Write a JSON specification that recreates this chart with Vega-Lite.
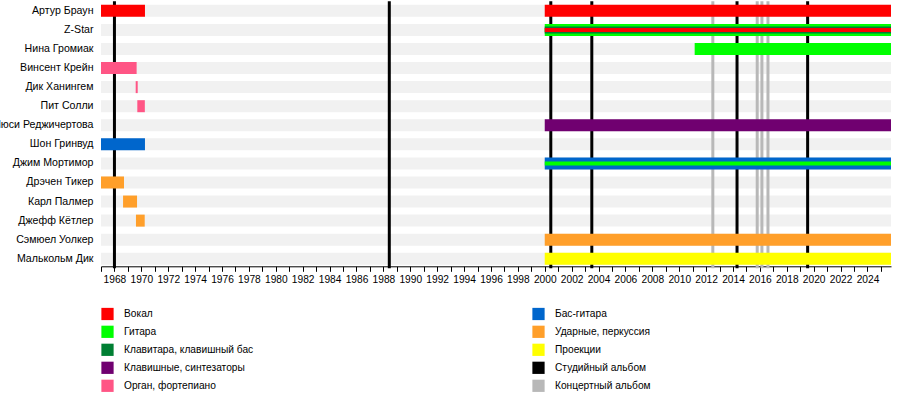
{
  "$schema": "https://vega.github.io/schema/vega-lite/v6.json",
  "width": 790,
  "height": 267,
  "autosize": {"type": "none"},
  "padding": {"left": 101, "top": 1.3, "right": 9, "bottom": 126.7},
  "background": "white",
  "config": {
    "view": {"stroke": null},
    "font": "Liberation Sans",
    "axisX": {
      "title": null,
      "grid": false,
      "offset": -2,
      "domainColor": "#000000",
      "tickColor": "#000000",
      "tickSize": 5,
      "labelFont": "Liberation Sans",
      "labelFontSize": 10.2,
      "labelColor": "#000000",
      "labelPadding": 3,
      "labelFlush": false,
      "labelOverlap": false
    },
    "legend": {
      "orient": "bottom",
      "columns": 2,
      "symbolType": "square",
      "symbolSize": 150,
      "symbolStrokeWidth": 0,
      "labelFont": "Liberation Sans",
      "labelFontSize": 10.2,
      "labelColor": "#000000",
      "labelOffset": 10,
      "rowPadding": 5,
      "columnPadding": 278,
      "offset": 22,
      "padding": 0,
      "title": null
    }
  },
  "datasets": {
    "members": [
      {"member": "Артур Браун"},
      {"member": "Z-Star"},
      {"member": "Нина Громиак"},
      {"member": "Винсент Крейн"},
      {"member": "Дик Ханингем"},
      {"member": "Пит Солли"},
      {"member": "Люси Реджичертова"},
      {"member": "Шон Гринвуд"},
      {"member": "Джим Мортимор"},
      {"member": "Дрэчен Тикер"},
      {"member": "Карл Палмер"},
      {"member": "Джефф Кётлер"},
      {"member": "Сэмюел Уолкер"},
      {"member": "Малькольм Дик"}
    ],
    "albums": [
      {"year": 1968.0, "type": "Студийный альбом"},
      {"year": 1988.44, "type": "Студийный альбом"},
      {"year": 2000.45, "type": "Студийный альбом"},
      {"year": 2003.5, "type": "Студийный альбом"},
      {"year": 2014.3, "type": "Студийный альбом"},
      {"year": 2019.55, "type": "Студийный альбом"},
      {"year": 2012.5, "type": "Концертный альбом"},
      {"year": 2015.8, "type": "Концертный альбом"},
      {"year": 2016.15, "type": "Концертный альбом"},
      {"year": 2016.6, "type": "Концертный альбом"}
    ],
    "bars": [
      {"member": "Артур Браун", "role": "Вокал", "start": 1967, "end": 1970.27, "tier": 1},
      {"member": "Артур Браун", "role": "Вокал", "start": 2000, "end": 2025.75, "tier": 1},
      {"member": "Z-Star", "role": "Гитара", "start": 2000, "end": 2025.75, "tier": 1},
      {"member": "Z-Star", "role": "Клавитара, клавишный бас", "start": 2000, "end": 2025.75, "tier": 2},
      {"member": "Z-Star", "role": "Вокал", "start": 2000, "end": 2025.75, "tier": 3},
      {"member": "Нина Громиак", "role": "Гитара", "start": 2011.15, "end": 2025.75, "tier": 1},
      {"member": "Винсент Крейн", "role": "Орган, фортепиано", "start": 1967, "end": 1969.65, "tier": 1},
      {"member": "Дик Ханингем", "role": "Орган, фортепиано", "start": 1969.58, "end": 1969.73, "tier": 1},
      {"member": "Пит Солли", "role": "Орган, фортепиано", "start": 1969.7, "end": 1970.26, "tier": 1},
      {"member": "Люси Реджичертова", "role": "Клавишные, синтезаторы", "start": 2000, "end": 2025.75, "tier": 1},
      {"member": "Шон Гринвуд", "role": "Бас-гитара", "start": 1967, "end": 1970.27, "tier": 1},
      {"member": "Джим Мортимор", "role": "Бас-гитара", "start": 2000, "end": 2025.75, "tier": 1},
      {"member": "Джим Мортимор", "role": "Гитара", "start": 2000, "end": 2025.75, "tier": 3},
      {"member": "Дрэчен Тикер", "role": "Ударные, перкуссия", "start": 1967, "end": 1968.71, "tier": 1},
      {"member": "Карл Палмер", "role": "Ударные, перкуссия", "start": 1968.64, "end": 1969.68, "tier": 1},
      {"member": "Джефф Кётлер", "role": "Ударные, перкуссия", "start": 1969.6, "end": 1970.25, "tier": 1},
      {"member": "Сэмюел Уолкер", "role": "Ударные, перкуссия", "start": 2000, "end": 2025.75, "tier": 1},
      {"member": "Малькольм Дик", "role": "Проекции", "start": 2000, "end": 2025.75, "tier": 1}
    ]
  },
  "resolve": {"scale": {"color": "shared"}},
  "layer": [
    {
      "data": {"name": "members"},
      "mark": {"type": "bar", "size": 12, "color": "#f1f1f1"},
      "encoding": {
        "y": {
          "field": "member",
          "type": "nominal",
          "scale": {"domain": ["Артур Браун", "Z-Star", "Нина Громиак", "Винсент Крейн", "Дик Ханингем", "Пит Солли", "Люси Реджичертова", "Шон Гринвуд", "Джим Мортимор", "Дрэчен Тикер", "Карл Палмер", "Джефф Кётлер", "Сэмюел Уолкер", "Малькольм Дик"], "paddingInner": 0, "paddingOuter": 0},
          "axis": {"title": null, "ticks": false, "domain": false, "labelFont": "Liberation Sans", "labelFontSize": 10.6, "labelColor": "#000000", "labelPadding": 8, "labelLimit": 0}
        },
        "x": {
          "datum": 1967,
          "type": "quantitative",
          "scale": {"domain": [1967, 2025.75], "nice": false, "zero": false},
          "axis": {
            "values": [1967, 1968, 1969, 1970, 1971, 1972, 1973, 1974, 1975, 1976, 1977, 1978, 1979, 1980, 1981, 1982, 1983, 1984, 1985, 1986, 1987, 1988, 1989, 1990, 1991, 1992, 1993, 1994, 1995, 1996, 1997, 1998, 1999, 2000, 2001, 2002, 2003, 2004, 2005, 2006, 2007, 2008, 2009, 2010, 2011, 2012, 2013, 2014, 2015, 2016, 2017, 2018, 2019, 2020, 2021, 2022, 2023, 2024, 2025],
            "labelExpr": "datum.value % 2 == 0 ? format(datum.value, 'd') : ''"
          }
        },
        "x2": {"datum": 2025.75}
      }
    },
    {
      "data": {"name": "albums"},
      "mark": {"type": "rule", "strokeWidth": 3},
      "encoding": {
        "x": {
          "field": "year",
          "type": "quantitative",
          "axis": {
            "values": [1967, 1968, 1969, 1970, 1971, 1972, 1973, 1974, 1975, 1976, 1977, 1978, 1979, 1980, 1981, 1982, 1983, 1984, 1985, 1986, 1987, 1988, 1989, 1990, 1991, 1992, 1993, 1994, 1995, 1996, 1997, 1998, 1999, 2000, 2001, 2002, 2003, 2004, 2005, 2006, 2007, 2008, 2009, 2010, 2011, 2012, 2013, 2014, 2015, 2016, 2017, 2018, 2019, 2020, 2021, 2022, 2023, 2024, 2025],
            "labelExpr": "datum.value % 2 == 0 ? format(datum.value, 'd') : ''"
          }
        },
        "color": {
          "field": "type",
          "type": "nominal",
          "scale": {
            "domain": ["Вокал", "Бас-гитара", "Гитара", "Ударные, перкуссия", "Клавитара, клавишный бас", "Проекции", "Клавишные, синтезаторы", "Студийный альбом", "Орган, фортепиано", "Концертный альбом"],
            "range": ["#ff0000", "#0066cc", "#00ff00", "#ff9f2a", "#007f33", "#ffff00", "#700070", "#000000", "#ff5585", "#b8b8b8"]
          },
          "legend": {
            "symbolType": "square",
            "encode": {"symbols": {"update": {"fill": {"scale": "color", "field": "value"}, "stroke": {"value": "transparent"}, "opacity": {"value": 1}}}}
          }
        }
      }
    },
    {
      "data": {"name": "bars"},
      "transform": [{"filter": "datum.tier == 1"}],
      "mark": {"type": "bar", "size": 12},
      "encoding": {
        "y": {"field": "member", "type": "nominal"},
        "x": {
          "field": "start",
          "type": "quantitative",
          "axis": {
            "values": [1967, 1968, 1969, 1970, 1971, 1972, 1973, 1974, 1975, 1976, 1977, 1978, 1979, 1980, 1981, 1982, 1983, 1984, 1985, 1986, 1987, 1988, 1989, 1990, 1991, 1992, 1993, 1994, 1995, 1996, 1997, 1998, 1999, 2000, 2001, 2002, 2003, 2004, 2005, 2006, 2007, 2008, 2009, 2010, 2011, 2012, 2013, 2014, 2015, 2016, 2017, 2018, 2019, 2020, 2021, 2022, 2023, 2024, 2025],
            "labelExpr": "datum.value % 2 == 0 ? format(datum.value, 'd') : ''"
          }
        },
        "x2": {"field": "end"},
        "color": {"field": "role", "type": "nominal"}
      }
    },
    {
      "data": {"name": "bars"},
      "transform": [{"filter": "datum.tier == 2"}],
      "mark": {"type": "bar", "size": 7},
      "encoding": {
        "y": {"field": "member", "type": "nominal"},
        "x": {
          "field": "start",
          "type": "quantitative",
          "axis": {
            "values": [1967, 1968, 1969, 1970, 1971, 1972, 1973, 1974, 1975, 1976, 1977, 1978, 1979, 1980, 1981, 1982, 1983, 1984, 1985, 1986, 1987, 1988, 1989, 1990, 1991, 1992, 1993, 1994, 1995, 1996, 1997, 1998, 1999, 2000, 2001, 2002, 2003, 2004, 2005, 2006, 2007, 2008, 2009, 2010, 2011, 2012, 2013, 2014, 2015, 2016, 2017, 2018, 2019, 2020, 2021, 2022, 2023, 2024, 2025],
            "labelExpr": "datum.value % 2 == 0 ? format(datum.value, 'd') : ''"
          }
        },
        "x2": {"field": "end"},
        "color": {"field": "role", "type": "nominal"}
      }
    },
    {
      "data": {"name": "bars"},
      "transform": [{"filter": "datum.tier == 3"}],
      "mark": {"type": "bar", "size": 4},
      "encoding": {
        "y": {"field": "member", "type": "nominal"},
        "x": {
          "field": "start",
          "type": "quantitative",
          "axis": {
            "values": [1967, 1968, 1969, 1970, 1971, 1972, 1973, 1974, 1975, 1976, 1977, 1978, 1979, 1980, 1981, 1982, 1983, 1984, 1985, 1986, 1987, 1988, 1989, 1990, 1991, 1992, 1993, 1994, 1995, 1996, 1997, 1998, 1999, 2000, 2001, 2002, 2003, 2004, 2005, 2006, 2007, 2008, 2009, 2010, 2011, 2012, 2013, 2014, 2015, 2016, 2017, 2018, 2019, 2020, 2021, 2022, 2023, 2024, 2025],
            "labelExpr": "datum.value % 2 == 0 ? format(datum.value, 'd') : ''"
          }
        },
        "x2": {"field": "end"},
        "color": {"field": "role", "type": "nominal"}
      }
    }
  ]
}
